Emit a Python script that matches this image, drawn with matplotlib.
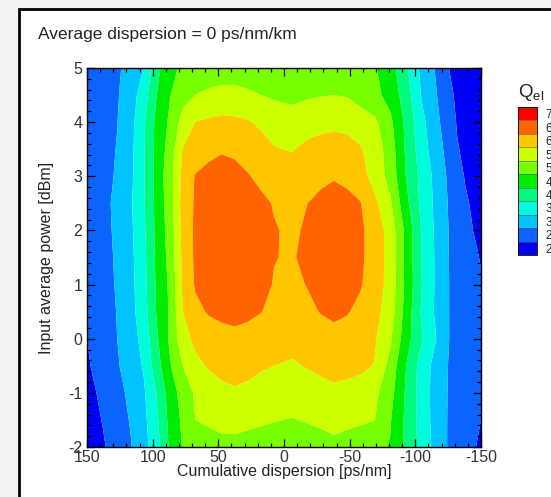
import matplotlib
matplotlib.use('Agg')
import matplotlib.pyplot as plt
from matplotlib.patches import Rectangle
from matplotlib.ticker import MultipleLocator

plt.rcParams['font.family'] = ['Liberation Sans', 'DejaVu Sans']
plt.rcParams['axes.unicode_minus'] = False
plt.rcParams['mathtext.fontset'] = 'custom'
plt.rcParams['mathtext.rm'] = 'Liberation Sans'

# ── 데이터 (그림에서 읽은 Q 값, 샘플 위치) ───────────────────────
dispersion = [150, 138, 127, 117, 107, 97, 87, 77, 67.5, 57.5, 47.5, 37.5, 27.5, 17.5, 7.5, -6,
              -18, -28, -38, -48, -58, -69, -81, -93, -105, -117, -126, -132, -138, -144, -150]
power = [-2.0, -1.5, -1.0, -0.5, 0.0, 0.5, 1.0, 1.5, 2.0, 2.5, 3.0, 3.5, 4.0, 4.5, 5.0]

q_m20 = [2.25, 2.45, 2.70, 2.96, 3.31, 3.80, 4.57, 5.03, 5.19, 5.35, 5.40, 5.40, 5.37, 5.33, 5.28, 5.26,
         5.31, 5.37, 5.42, 5.36, 5.30, 5.15, 4.97, 4.41, 3.82, 3.28, 2.93, 2.80, 2.67, 2.54, 2.43]
q_m15 = [2.30, 2.52, 2.77, 3.03, 3.36, 3.91, 4.64, 5.10, 5.50, 5.55, 5.60, 5.61, 5.58, 5.55, 5.52, 5.48,
         5.53, 5.56, 5.60, 5.58, 5.55, 5.51, 5.03, 4.40, 3.78, 3.25, 2.94, 2.83, 2.72, 2.61, 2.50]
q_m10 = [2.35, 2.60, 2.84, 3.11, 3.42, 4.02, 4.72, 5.21, 5.56, 5.71, 5.90, 5.96, 5.92, 5.82, 5.75, 5.71,
         5.78, 5.82, 5.88, 5.83, 5.80, 5.61, 5.17, 4.43, 3.76, 3.25, 2.95, 2.85, 2.75, 2.65, 2.55]
q_m05 = [2.45, 2.68, 2.95, 3.23, 3.54, 4.29, 4.94, 5.50, 5.88, 6.05, 6.12, 6.13, 6.10, 6.05, 6.00, 5.95,
         6.03, 6.12, 6.20, 6.17, 6.10, 5.98, 5.32, 4.50, 3.78, 3.27, 2.96, 2.86, 2.76, 2.65, 2.55]
q_p00 = [2.50, 2.75, 3.00, 3.28, 3.65, 4.42, 5.08, 5.81, 6.11, 6.27, 6.37, 6.41, 6.37, 6.30, 6.20, 6.14,
         6.23, 6.31, 6.38, 6.33, 6.22, 6.06, 5.57, 4.71, 4.04, 3.45, 2.99, 2.89, 2.79, 2.69, 2.60]
q_p05 = [2.75, 2.88, 3.01, 3.33, 3.78, 4.53, 5.05, 6.00, 6.38, 6.54, 6.59, 6.61, 6.58, 6.51, 6.41, 6.30,
         6.41, 6.52, 6.58, 6.53, 6.40, 6.16, 5.75, 4.80, 3.93, 3.36, 2.99, 2.89, 2.79, 2.70, 2.60]
q_p10 = [2.75, 2.88, 3.03, 3.35, 3.82, 4.57, 5.09, 6.08, 6.55, 6.68, 6.80, 6.76, 6.72, 6.60, 6.48, 6.40,
         6.52, 6.63, 6.75, 6.65, 6.54, 6.28, 5.80, 4.88, 4.00, 3.37, 2.99, 2.88, 2.77, 2.66, 2.55]
q_p15 = [2.72, 2.87, 3.05, 3.37, 3.85, 4.60, 5.15, 6.12, 6.58, 6.71, 6.85, 6.79, 6.73, 6.64, 6.51, 6.47,
         6.58, 6.71, 6.85, 6.71, 6.58, 6.31, 5.79, 4.86, 3.97, 3.37, 2.98, 2.85, 2.72, 2.59, 2.47]
q_p20 = [2.70, 2.87, 3.08, 3.40, 3.89, 4.63, 5.20, 6.17, 6.58, 6.72, 6.85, 6.79, 6.73, 6.64, 6.53, 6.43,
         6.56, 6.70, 6.85, 6.71, 6.58, 6.31, 5.79, 4.86, 3.96, 3.35, 2.97, 2.81, 2.66, 2.50, 2.42]
q_p25 = [2.70, 2.88, 3.10, 3.43, 3.94, 4.64, 5.26, 6.19, 6.56, 6.68, 6.80, 6.76, 6.72, 6.60, 6.47, 6.38,
         6.50, 6.63, 6.75, 6.64, 6.53, 6.11, 5.56, 4.64, 3.86, 3.33, 2.94, 2.75, 2.56, 2.44, 2.35]
q_p30 = [2.68, 2.85, 3.05, 3.38, 3.94, 4.68, 5.30, 6.15, 6.53, 6.61, 6.63, 6.60, 6.53, 6.39, 6.25, 6.23,
         6.30, 6.38, 6.45, 6.38, 6.19, 5.83, 5.32, 4.48, 3.84, 3.30, 2.89, 2.66, 2.47, 2.36, 2.25]
q_p35 = [2.68, 2.85, 3.02, 3.36, 3.93, 4.65, 5.20, 6.02, 6.19, 6.40, 6.47, 6.44, 6.31, 6.18, 6.03, 5.97,
         6.11, 6.22, 6.27, 6.22, 6.05, 5.78, 5.25, 4.42, 3.72, 3.17, 2.81, 2.53, 2.41, 2.30, 2.20]
q_p40 = [2.70, 2.84, 2.99, 3.32, 3.92, 4.63, 5.08, 5.67, 6.01, 6.08, 6.15, 6.12, 6.04, 5.92, 5.79, 5.72,
         5.81, 5.82, 5.86, 5.82, 5.72, 5.60, 5.11, 4.38, 3.63, 3.07, 2.71, 2.46, 2.36, 2.25, 2.15]
q_p45 = [2.72, 2.84, 2.96, 3.25, 3.75, 4.50, 4.97, 5.33, 5.50, 5.55, 5.57, 5.56, 5.54, 5.50, 5.43, 5.37,
         5.44, 5.48, 5.50, 5.47, 5.33, 5.14, 4.82, 4.25, 3.45, 2.98, 2.58, 2.43, 2.33, 2.24, 2.15]
q_p50 = [2.75, 2.85, 2.94, 3.14, 3.50, 4.35, 4.86, 5.09, 5.22, 5.35, 5.38, 5.40, 5.35, 5.30, 5.21, 5.17,
         5.23, 5.30, 5.33, 5.30, 5.20, 5.05, 4.71, 4.08, 3.36, 2.91, 2.49, 2.42, 2.35, 2.27, 2.20]

q_grid = [q_m20, q_m15, q_m10, q_m05, q_p00, q_p05, q_p10,
          q_p15, q_p20, q_p25, q_p30, q_p35, q_p40, q_p45, q_p50]

# 등고선 레벨 / 색 (범례 순서: 아래 -> 위)
levels = [2.0, 2.5, 3.0, 3.5, 4.0, 4.5, 5.0, 5.5, 6.0, 6.5, 7.0, 7.5]
band_colors = ['#0000f4', '#0c64ff', '#00c3ff', '#00fcdc', '#00fa82', '#00ec00',
               '#78ff00', '#ccff00', '#ffc600', '#ff6400', '#ff0000']
legend_ticks = [2.25, 2.75, 3.25, 3.75, 4.25, 4.75, 5.25, 5.75, 6.25, 6.75, 7.25]
legend_labels = ['2', '2.5', '3', '3.5', '4', '4.5', '5', '5.5', '6', '6.5', '7']

W, H = 551, 497

fig = plt.figure(figsize=(W / 100, H / 100), dpi=100)
fig.patch.set_facecolor('#f2f2f2')

# 바깥 프레임 (흰 바탕 + 검은 테두리)
fig.add_artist(Rectangle((19 / W, -0.2), 1.5, 1.2 - 9 / H,
                         transform=fig.transFigure, facecolor='white',
                         edgecolor='black', linewidth=2.0, zorder=0))

fig.text(38 / W, 1 - 35 / H, 'Average dispersion = 0 ps/nm/km',
         fontsize=12.5, ha='left', va='center', color='#222222')

ax = fig.add_axes([87 / W, 1 - 447 / H, 394 / W, 379 / H])
cs = ax.contourf(dispersion, power, q_grid, levels=levels, colors=band_colors,
                 antialiased=True)

ax.set_xlim(150, -150)
ax.set_ylim(-2, 5)
ax.xaxis.set_major_locator(MultipleLocator(50))
ax.xaxis.set_minor_locator(MultipleLocator(10))
ax.yaxis.set_major_locator(MultipleLocator(1))
ax.yaxis.set_minor_locator(MultipleLocator(0.2))
ax.tick_params(which='both', direction='in', top=True, right=True,
               labelsize=11.5, labelcolor='#333333', width=0.9)
ax.tick_params(which='major', length=6)
ax.tick_params(which='minor', length=3)
ax.tick_params(axis='x', pad=2)
for sp in ax.spines.values():
    sp.set_linewidth(1.0)

ax.set_xlabel('Cumulative dispersion [ps/nm]', fontsize=11.5, color='#222222')
ax.set_ylabel('Input average power [dBm]', fontsize=11.5, color='#222222')
ax.xaxis.set_label_coords(0.5, -0.045)
ax.yaxis.set_label_coords(-0.085, 0.5)

# 범례 (Tecplot 스타일 컬러 박스)
cax = fig.add_axes([518 / W, 1 - 255 / H, 19 / W, 148 / H])
cb = fig.colorbar(cs, cax=cax, drawedges=True)
cb.set_ticks(legend_ticks)
cb.set_ticklabels(legend_labels)
cb.ax.tick_params(length=0, pad=6, labelsize=8.5, labelcolor='#222222')
cb.outline.set_linewidth(0.6)
cb.dividers.set_color('#555555')
cb.dividers.set_linewidth(0.4)

fig.text(518 / W, 1 - 97 / H, r'Q$_{\mathrm{el}}$', fontsize=13.5,
         ha='left', va='baseline', color='#222222')

fig.savefig('out.png', dpi=100)
